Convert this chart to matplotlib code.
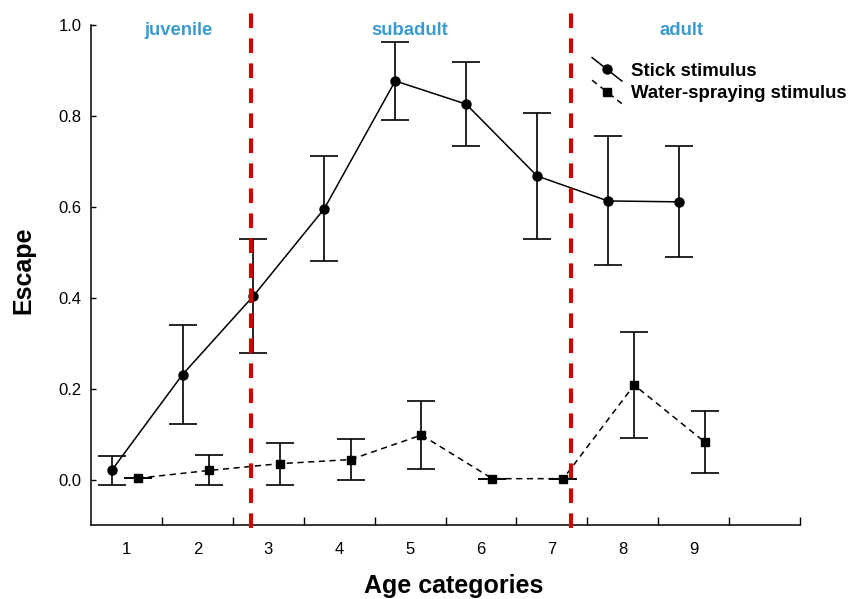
import matplotlib
matplotlib.use("Agg")
import matplotlib.pyplot as plt
from matplotlib.legend_handler import HandlerLine2D
from matplotlib.lines import Line2D
import numpy as np

plt.rcParams['font.family'] = ['Liberation Sans', 'DejaVu Sans']

# age categories
ages = [1, 2, 3, 4, 5, 6, 7, 8, 9]

# escape proportion, stick stimulus (mean, error)
stick_mean = [0.020, 0.231, 0.404, 0.596, 0.877, 0.826, 0.668, 0.613, 0.611]
stick_err = [0.032, 0.109, 0.125, 0.115, 0.085, 0.092, 0.138, 0.142, 0.122]

# escape proportion, water-spraying stimulus (mean, error)
water_mean = [0.003, 0.020, 0.035, 0.044, 0.098, 0.002, 0.002, 0.208, 0.082]
water_err = [0.0, 0.033, 0.046, 0.046, 0.075, 0.0, 0.0, 0.117, 0.068]

# stage boundaries and labels
stage_bounds = [2.75, 7.27]
stage_names = ["juvenile", "subadult", "adult"]
stage_centers = [1.73, 5.0, 8.83]


class DiagHandler(HandlerLine2D):
    # legend handle drawn as a diagonal line through the marker
    def create_artists(self, legend, orig_handle, xdescent, ydescent,
                       width, height, fontsize, trans):
        x0, x1 = -xdescent, -xdescent + width
        y0, y1 = -ydescent + height * 1.4, -ydescent - height * 0.4
        line = Line2D([x0, x1], [y0, y1])
        self.update_prop(line, orig_handle, legend)
        line.set_marker("None")
        mk = Line2D([(x0 + x1) / 2], [(y0 + y1) / 2])
        self.update_prop(mk, orig_handle, legend)
        mk.set_linestyle("None")
        line.set_transform(trans)
        mk.set_transform(trans)
        return [line, mk]


fig = plt.figure(figsize=(8.59, 5.99), dpi=100)
ax = fig.add_axes([0.106, 0.1235, 0.8254, 0.8347])

x = np.array(ages, dtype=float)
h1 = ax.errorbar(x - 0.21, stick_mean, yerr=stick_err, fmt="-o", color="black",
                 lw=1.1, elinewidth=1.2, capsize=10, capthick=1.2, markersize=6.5,
                 label="Stick stimulus", zorder=3)
h2 = ax.errorbar(x + 0.16, water_mean, yerr=water_err, fmt="--s", color="black",
                 lw=1.1, elinewidth=1.2, capsize=10, capthick=1.2, markersize=5.5,
                 dashes=(4, 3), label="Water-spraying stimulus", zorder=3)

for b in stage_bounds:
    ax.axvline(b, ymin=-0.006, ymax=1.024, color="#d40000", lw=3,
               dashes=(3.5, 2.5), clip_on=False, zorder=4)

for name, cx in zip(stage_names, stage_centers):
    ax.text(cx, 0.99, name, transform=ax.get_xaxis_transform(), ha="center",
            va="center", color="#3a9bd2", fontsize=13.3, fontweight="bold")

ax.set_xlim(0.5, 10.5)
ax.set_ylim(-0.1, 1.0)
ax.set_xticks(ages)
ax.set_xticklabels([str(a) for a in ages])
ax.set_xticks(np.arange(1.5, 11, 1.0), minor=True)
ax.tick_params(axis="x", which="major", length=0, pad=12, labelsize=12)
ax.tick_params(axis="x", which="minor", direction="in", length=6, width=1)
ax.set_yticks([0.0, 0.2, 0.4, 0.6, 0.8, 1.0])
ax.set_yticklabels(["0.0", "0.2", "0.4", "0.6", "0.8", "1.0"])
ax.tick_params(axis="y", direction="in", length=3.5, width=1, pad=7, labelsize=12)

ax.spines["top"].set_visible(False)
ax.spines["right"].set_visible(False)
for s in ["left", "bottom"]:
    ax.spines[s].set_linewidth(1.1)

ax.set_xlabel("Age categories", fontsize=18, fontweight="bold")
ax.set_ylabel("Escape", fontsize=18, fontweight="bold")
ax.xaxis.set_label_coords(0.511, -0.098)
ax.yaxis.set_label_coords(-0.079, 0.51)

leg = ax.legend(handles=[h1.lines[0], h2.lines[0]],
                labels=["Stick stimulus", "Water-spraying stimulus"],
                handler_map={Line2D: DiagHandler()},
                loc="upper left", bbox_to_anchor=(0.683, 0.958), frameon=False,
                handlelength=1.6, handletextpad=0.5, labelspacing=0.3,
                prop={"weight": "bold", "size": 13.4})

fig.savefig("out.png", dpi=100)
